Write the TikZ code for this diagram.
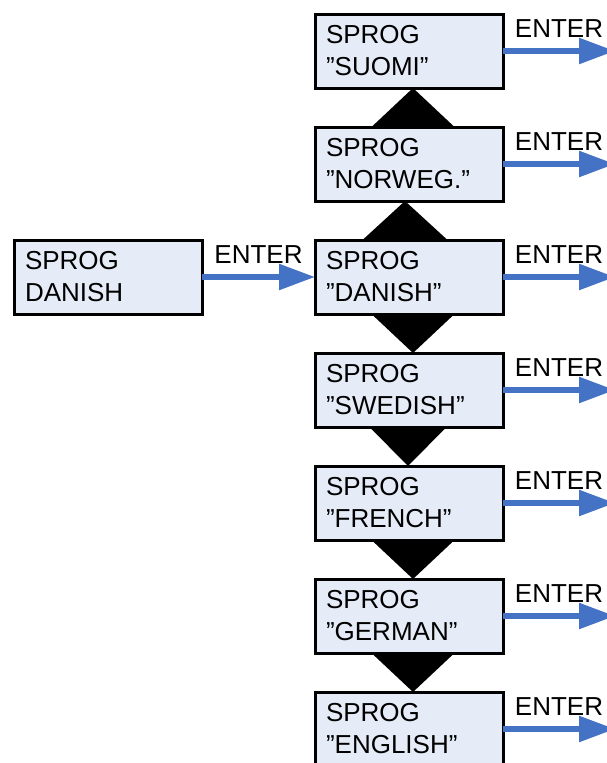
\documentclass[tikz,border=0pt]{standalone}
\usepackage{fontspec}
\setmainfont{Liberation Sans}
\usetikzlibrary{arrows.meta,positioning}
\definecolor{boxfill}{RGB}{230,236,247}
\definecolor{enterblue}{RGB}{68,114,196}

\begin{document}
\begin{tikzpicture}[x=1pt,y=1pt,>={Triangle[length=36pt,width=25pt]},
    font=\fontsize{26}{32}\selectfont,node distance=39pt,
    sprog/.style={draw,line width=3pt,fill=boxfill,minimum width=188pt,
      minimum height=74pt,outer sep=0pt,inner xsep=11pt,text width=166pt,align=left},
    enter/.style={->,draw=enterblue,line width=5.5pt}]
		\useasboundingbox (0,0) rectangle (606,-763);
		\node[sprog] (suomi) at (409,-51) {SPROG\\”SUOMI”};
		\node[sprog] [below=of suomi] (norweg) {SPROG\\”NORWEG.”};
		\node[sprog] [below=of norweg] (danish) {SPROG\\”DANISH”};
		\node[sprog] [below=of danish] (swedish) {SPROG\\”SWEDISH”};
		\node[sprog] [below=of swedish] (french) {SPROG\\”FRENCH”};
		\node[sprog] [below=of french] (german) {SPROG\\”GERMAN”};
		\node[sprog] [below=of german] (english) {SPROG\\”ENGLISH”};
		\node[sprog] [left=113pt of danish] (start) {SPROG\\DANISH};
		% black pointers between the boxes
		\foreach \boxa/\boxb/\dx/\w in {suomi/norweg/4/41.5,norweg/danish/-4/42.5}
			\fill ([xshift=\dx pt]\boxa.south) -- ([xshift=\dx pt-\w pt]\boxb.north)
				-- ([xshift=\dx pt+\w pt]\boxb.north) -- cycle;
		\foreach \boxa/\boxb/\dx/\w in {danish/swedish/4/41.5,swedish/french/-1/38.5,
				french/german/4/41.5,german/english/4/41.5}
			\fill ([xshift=\dx pt-\w pt]\boxa.south) -- ([xshift=\dx pt+\w pt]\boxa.south)
				-- ([xshift=\dx pt]\boxb.north) -- cycle;
		% ENTER arrows
		\draw[enter] (start.east) -- node[above,inner ysep=11pt] {ENTER} (danish.west);
		\foreach \n in {suomi,norweg,danish,swedish,french,german,english}{
			\coordinate (\n-out) at ([xshift=112pt]\n.east);
			\draw[enter] (\n.east) -- node[above,inner ysep=11pt] {ENTER} (\n-out);
		}
	\end{tikzpicture}
\end{document}
